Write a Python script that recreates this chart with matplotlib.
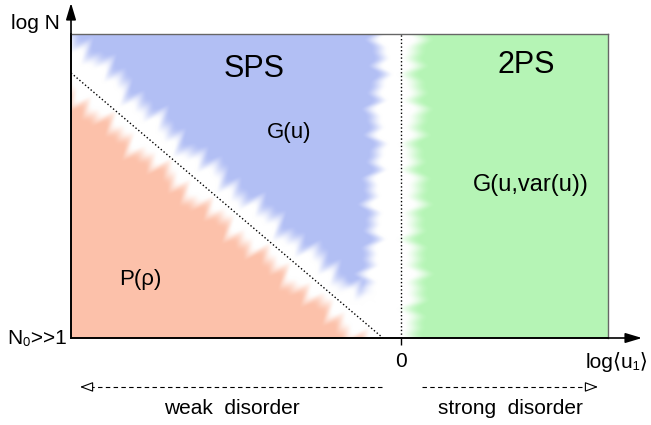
import numpy as np
import matplotlib
matplotlib.use("Agg")
import matplotlib.pyplot as plt

plt.rcParams['font.family'] = ['Liberation Sans', 'DejaVu Sans']

# axis range: x = log<u1>, y = log N (schematic units)
x_lim = (-1.0, 0.625)
y_lim = (0.0, 1.0)

# dotted crossover line between P(rho) and SPS
diag_x = [-1.0, -0.056]
diag_y = [0.872, 0.0]

# edges of the phase regions (x values of the vertical boundaries)
sps_right_top = -0.060
sps_right_bottom = -0.100
sps_bottom = 0.16
tps_left = 0.048

# region colours
col_sps = (0.70, 0.75, 0.96)
col_2ps = (0.71, 0.96, 0.71)
col_p = (0.99, 0.76, 0.67)

phase_labels = ['SPS', '2PS', 'G(u)', 'G(u,var(u))', 'P(ρ)']


def ramp(v, a, b):
    t = np.clip((v - a) / (b - a), 0, 1)
    return t * t * (3 - 2 * t)


fig = plt.figure(figsize=(6.51, 4.25), dpi=100)
ax = fig.add_axes([71 / 651, 87 / 425, 537 / 651, 304 / 425])
ax.set_xlim(*x_lim)
ax.set_ylim(*y_lim)

# pixel scale of the axes, used only for the soft edges of the regions
sx = 537 / (x_lim[1] - x_lim[0])
sy = 304 / (y_lim[1] - y_lim[0])
nx, ny = 537, 304
xs = x_lim[0] + (np.arange(nx) + 0.5) / nx * (x_lim[1] - x_lim[0])
ys = y_lim[1] - (np.arange(ny) + 0.5) / ny * (y_lim[1] - y_lim[0])
X, Y = np.meshgrid(xs, ys)
PX, PY = X * sx, Y * sy

# signed distance from the diagonal (positive on the SPS side)
dx = (diag_x[1] - diag_x[0]) * sx
dy = (diag_y[1] - diag_y[0]) * sy
ln = np.hypot(dx, dy)
s = ((PX - diag_x[0] * sx) * (-dy) + (PY - diag_y[0] * sy) * dx) / ln
s = -s if s[0, -1] < 0 else s
t = ((PX - diag_x[0] * sx) * dx + (PY - diag_y[0] * sy) * dy) / ln

# feathered edges
rip_d = 3.5 * np.sin(t / 4.1) + 2.5 * np.sin(t / 2.3 + 1.0) + 3 * np.sin(t / 11.0 + 2.0)
rip_v = 3 * np.sin(PY / 3.7) + 2 * np.sin(PY / 2.2 + 0.7) + 3 * np.sin(PY / 13.0)
rip_b = 3 * np.sin(PX / 3.9 + 0.4) + 2 * np.sin(PX / 9.0)

# the white band is a bit wider near the upper left corner
widen = 10 * np.clip(1 - t / 120, 0, 1)

frac = (1 - Y)
x_sps = (sps_right_top + (sps_right_bottom - sps_right_top) * frac) * sx
m_sps = (ramp(s + rip_d - widen, 8, 30) * ramp(x_sps - PX + rip_v, -7, 11)
         * ramp(PY - sps_bottom * sy + rip_b, -14, 10))
m_p = ramp(-s + rip_d, 6, 26)
m_2ps = ramp(PX - tps_left * sx + rip_v, -13, 11)

img = np.ones((ny, nx, 3))
for m, c in [(m_sps, col_sps), (m_p, col_p), (m_2ps, col_2ps)]:
    img -= m[..., None] * (1 - np.array(c))
img = np.clip(img, 0, 1)

ax.imshow(img, extent=[x_lim[0], x_lim[1], y_lim[0], y_lim[1]], origin='upper',
          aspect='auto', interpolation='bilinear', zorder=0)

# dotted lines
ax.plot([0, 0], [0, 1], ls=':', color='k', lw=1, zorder=2)
ax.plot(diag_x, diag_y, ls=':', color='k', lw=1, zorder=2)

# frame
for side in ['top', 'right']:
    ax.spines[side].set_color('#666666')
    ax.spines[side].set_linewidth(1.0)
for side in ['left', 'bottom']:
    ax.spines[side].set_color('k')
    ax.spines[side].set_linewidth(1.2)

ax.set_yticks([])
ax.set_xticks([0], labels=['0'])
ax.tick_params(axis='x', length=5, width=1, pad=5, labelsize=15)

# axis arrows
arrow = dict(arrowstyle='-|>,head_length=1.0,head_width=0.3', color='k',
             lw=1.2, mutation_scale=10, shrinkA=0, shrinkB=0)
ax.annotate('', xy=(x_lim[0], 1.102), xytext=(x_lim[0], 0), arrowprops=arrow,
            annotation_clip=False)
ax.annotate('', xy=(0.728, 0), xytext=(x_lim[0], 0), arrowprops=arrow,
            annotation_clip=False)

# axis labels
ax.text(-1.109, 1.016, 'log N', fontsize=15, ha='center', va='baseline', clip_on=False)
ax.text(-1.012, -0.020, 'N₀>>1', fontsize=15, ha='right', va='baseline', clip_on=False)
ax.text(0.558, -0.099, 'log⟨u₁⟩', fontsize=15, ha='left', va='baseline', clip_on=False)

# phase labels
ax.text(-0.446, 0.859, phase_labels[0], fontsize=22, ha='center', va='baseline')
ax.text(0.377, 0.872, phase_labels[1], fontsize=22, ha='center', va='baseline')
ax.text(-0.340, 0.658, phase_labels[2], fontsize=16, ha='center', va='baseline')
ax.text(0.392, 0.484, phase_labels[3], fontsize=17, ha='center', va='baseline')
ax.text(-0.791, 0.174, phase_labels[4], fontsize=16, ha='center', va='baseline')

# disorder arrows below the axis
ya = -0.161
open_head = dict(arrowstyle='-|>,head_length=0.8,head_width=0.3', fc='white',
                 ec='k', lw=0.8, mutation_scale=10, shrinkA=0, shrinkB=0)
ax.plot([-0.059, -0.955], [ya, ya], ls=(0, (4, 3)), color='k', lw=0.8, clip_on=False)
ax.annotate('', xy=(-0.973, ya), xytext=(-0.94, ya), arrowprops=open_head,
            annotation_clip=False)
ax.plot([0.062, 0.577], [ya, ya], ls=(0, (4, 3)), color='k', lw=0.8, clip_on=False)
ax.annotate('', xy=(0.595, ya), xytext=(0.56, ya), arrowprops=open_head,
            annotation_clip=False)

ax.text(-0.513, -0.25, 'weak  disorder', fontsize=15, ha='center', va='baseline',
        clip_on=False)
ax.text(0.331, -0.25, 'strong  disorder', fontsize=15, ha='center', va='baseline',
        clip_on=False)

plt.savefig('out.png', dpi=100)
plt.close()
